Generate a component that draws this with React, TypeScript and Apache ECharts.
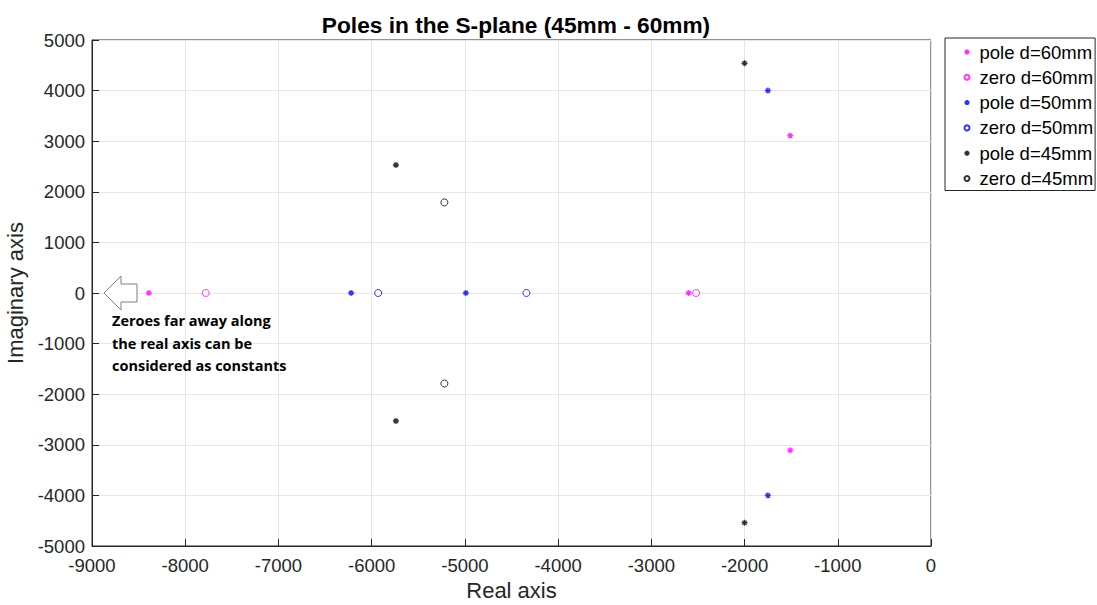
import React, { useEffect, useRef } from "react";
import * as echarts from "echarts";

// Pole / zero locations [real, imaginary]
const pole60: [number, number][] = [[-8390, 0], [-2600, 0], [-1510, 3110], [-1510, -3110]];
const zero60: [number, number][] = [[-7780, 0], [-2520, 0]];
const pole50: [number, number][] = [[-6220, 0], [-4990, 0], [-1750, 4000], [-1750, -4000]];
const zero50: [number, number][] = [[-5930, 0], [-4340, 0]];
const pole45: [number, number][] = [[-5740, 2530], [-5740, -2530], [-2000, 4540], [-2000, -4540]];
const zero45: [number, number][] = [[-5220, 1790], [-5220, -1790]];

const seriesNames = ["pole d=60mm", "zero d=60mm", "pole d=50mm", "zero d=50mm", "pole d=45mm", "zero d=45mm"];
const noteLines = ["Zeroes far away along", "the real axis can be", "considered as constants"];

const ASTERISK = "path://M5,0L5,10M0,5L10,5M1.5,1.5L8.5,8.5M1.5,8.5L8.5,1.5";

export default function App() {
  const ref = useRef<HTMLDivElement>(null);
  useEffect(() => {
    if (!ref.current) return;
    const chart = echarts.init(ref.current, undefined, { renderer: "svg" });
    const font = "'Liberation Sans', Arial, sans-serif";
    const pole = (name: string, data: [number, number][], color: string) => ({
      name,
      type: "scatter",
      data,
      symbol: ASTERISK,
      symbolSize: 6,
      itemStyle: { color: "none", borderColor: color, borderWidth: 1.3 },
    });
    const zero = (name: string, data: [number, number][], color: string) => ({
      name,
      type: "scatter",
      data,
      symbol: "circle",
      symbolSize: 7,
      itemStyle: { color: "#fff", borderColor: color, borderWidth: 1 },
    });
    const plain = (v: number) => String(v);
    chart.setOption({
      animation: false,
      backgroundColor: "#fff",
      title: {
        text: "Poles in the S-plane (45mm - 60mm)",
        left: 511,
        textAlign: "center",
        top: 8,
        textStyle: { fontFamily: font, fontSize: 22.7, fontWeight: "bold", color: "#000" },
      },
      grid: {
        left: 92,
        right: 166,
        top: 40,
        bottom: 59,
        outerBoundsMode: "none",
        containLabel: false,
        show: true,
        borderColor: "#262626",
        borderWidth: 1,
      },
      legend: {
        orient: "vertical",
        left: 945,
        top: 38,
        itemWidth: 5,
        itemHeight: 5,
        itemGap: 5.3,
        padding: [4, 2, 2, 17],
        borderColor: "#262626",
        borderWidth: 1,
        textStyle: { fontFamily: font, fontSize: 18.5, lineHeight: 20, color: "#000", padding: [0, 0, 0, 5] },
        data: seriesNames,
      },
      xAxis: {
        type: "value",
        min: -9000,
        max: 0,
        interval: 1000,
        name: "Real axis",
        nameLocation: "middle",
        nameGap: 33,
        nameTextStyle: { fontFamily: font, fontSize: 22, color: "#262626" },
        axisLine: { show: true, onZero: false, lineStyle: { color: "#262626" } },
        axisTick: { show: true, inside: true, length: 7, lineStyle: { color: "#262626" } },
        axisLabel: { fontFamily: font, fontSize: 18.5, color: "#262626", margin: 10, formatter: plain },
        splitLine: { show: true, lineStyle: { color: "#e6e6e6" } },
      },
      yAxis: {
        type: "value",
        min: -5000,
        max: 5000,
        interval: 1000,
        name: "Imaginary axis",
        nameLocation: "middle",
        nameGap: 61,
        nameTextStyle: { fontFamily: font, fontSize: 22, color: "#262626" },
        axisLine: { show: true, onZero: false, lineStyle: { color: "#262626" } },
        axisTick: { show: true, inside: true, length: 7, lineStyle: { color: "#262626" } },
        axisLabel: { fontFamily: font, fontSize: 18.5, color: "#262626", margin: 7, formatter: plain },
        splitLine: { show: true, lineStyle: { color: "#e6e6e6" } },
      },
      series: [
        pole(seriesNames[0], pole60, "#ff00ff"),
        zero(seriesNames[1], zero60, "#ff00ff"),
        pole(seriesNames[2], pole50, "#0000ff"),
        zero(seriesNames[3], zero50, "#0000ff"),
        pole(seriesNames[4], pole45, "#000000"),
        zero(seriesNames[5], zero45, "#000000"),
      ],
      graphic: [
        {
          type: "polygon",
          shape: {
            points: [
              [104, 293],
              [121, 276],
              [121, 284],
              [137, 284],
              [137, 302],
              [121, 302],
              [121, 310],
            ],
          },
          style: { fill: "#fff", stroke: "#7f7f7f", lineWidth: 1 },
          z: 10,
        },
        ...noteLines.map((t, i) => ({
          type: "text",
          left: 112,
          top: 313 + i * 22.5,
          z: 10,
          style: {
            text: t,
            fontFamily: "'Open Sans', 'Noto Sans', sans-serif",
            fontWeight: "bold",
            fontSize: 14.5,
            fill: "#000",
            shadowBlur: 2,
            shadowColor: "rgba(0,0,0,0.35)",
            shadowOffsetX: 1,
            shadowOffsetY: 1,
          },
        })),
      ],
    });
    return () => chart.dispose();
  }, []);
  return <div ref={ref} style={{ width: 1097, height: 605, position: "absolute", left: 0, top: 0 }} />;
}
